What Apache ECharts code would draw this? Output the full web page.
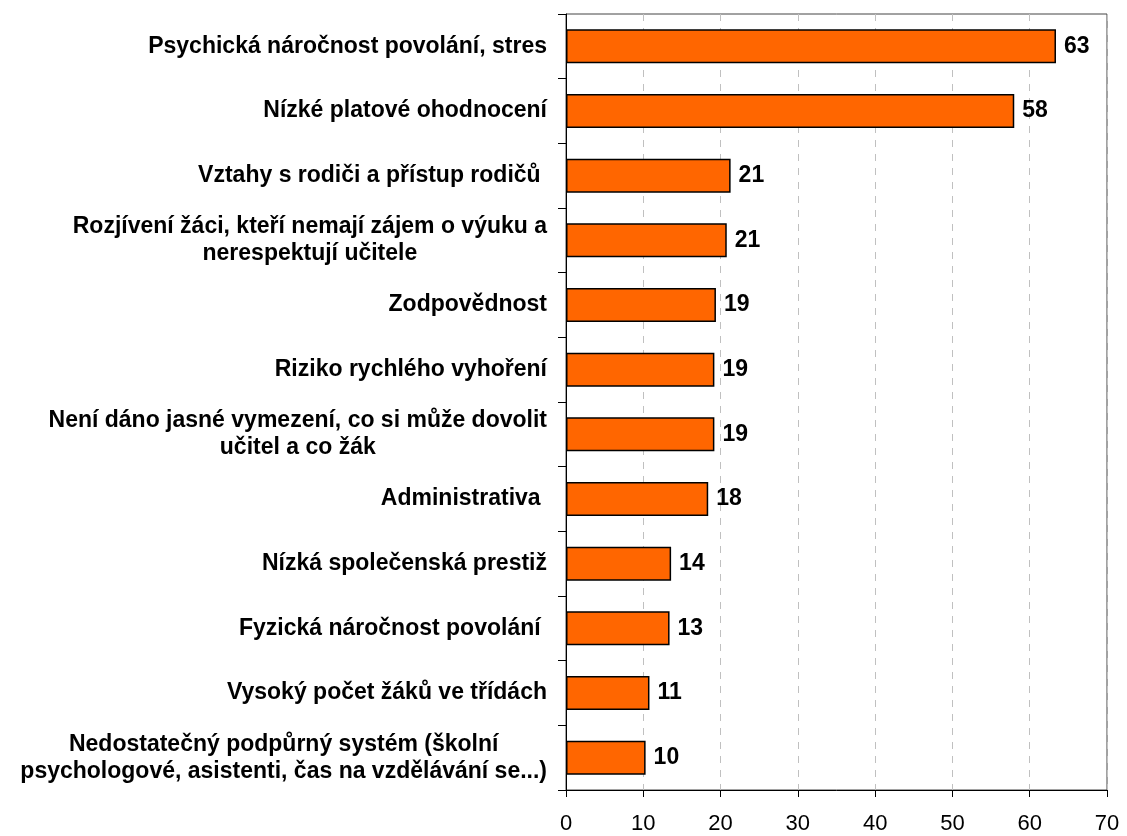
<!DOCTYPE html>
<html>
<head>
<meta charset="utf-8">
<script src="https://cdn.jsdelivr.net/npm/echarts@6/dist/echarts.min.js"></script>
<style>
html,body{margin:0;padding:0;background:#fff;}
#chart{width:1127px;height:836px;}
</style>
</head>
<body>
<div id="chart"></div>
<script>
const categories = [
  "Psychická náročnost povolání, stres",
  "Nízké platové ohodnocení",
  "Vztahy s rodiči a přístup rodičů ",
  "Rozjívení žáci, kteří nemají zájem o výuku a\nnerespektují učitele",
  "Zodpovědnost",
  "Riziko rychlého vyhoření",
  "Není dáno jasné vymezení, co si může dovolit\nučitel a co žák",
  "Administrativa ",
  "Nízká společenská prestiž",
  "Fyzická náročnost povolání ",
  "Vysoký počet žáků ve třídách",
  "Nedostatečný podpůrný systém (školní\npsychologové, asistenti, čas na vzdělávání se...)"
];
const values = [63.4, 58.0, 21.3, 20.8, 19.4, 19.2, 19.2, 18.4, 13.6, 13.4, 10.8, 10.3];
const xTicks = [0, 10, 20, 30, 40, 50, 60, 70];

const FONT = 'Liberation Sans, Arial, Helvetica, sans-serif';
const chart = echarts.init(document.getElementById('chart'));
chart.setOption({
  animation: false,
  backgroundColor: '#fff',
  grid: {
    left: 566, right: 20, top: 14, bottom: 46,
    show: true, borderColor: '#444', borderWidth: 1, backgroundColor: 'transparent'
  },
  xAxis: {
    type: 'value',
    min: xTicks[0], max: xTicks[xTicks.length - 1], interval: 10,
    axisLine: { show: true, lineStyle: { color: '#000', width: 1 } },
    axisTick: { show: true, length: 7, lineStyle: { color: '#000' } },
    splitLine: { show: true, lineStyle: { color: '#c0c0c0', type: [7, 7], width: 1 } },
    axisLabel: {
      margin: 23,
      fontFamily: FONT,
      fontSize: 22, color: '#000'
    }
  },
  yAxis: {
    type: 'category',
    inverse: true,
    data: categories,
    axisLine: { show: true, lineStyle: { color: '#000', width: 1 } },
    axisTick: { show: true, length: 8, lineStyle: { color: '#000' } },
    axisLabel: {
      margin: 19,
      align: 'right',
      fontFamily: FONT,
      fontWeight: 'bold',
      fontSize: 23,
      lineHeight: 27,
      color: '#000',
      formatter: function (v) {
        return v.split('\n').map(l => '{c|' + l + '}').join('\n');
      },
      rich: {
        c: {
          align: 'center',
          fontFamily: FONT,
          fontWeight: 'bold', fontSize: 23, lineHeight: 27, color: '#000'
        }
      }
    }
  },
  series: [{
    type: 'bar',
    data: values,
    barWidth: 34,
    itemStyle: { color: '#FF6600', borderColor: '#000', borderWidth: 1.5 },
    label: {
      show: true, position: 'right', distance: 8,
      fontFamily: FONT,
      fontWeight: 'bold', fontSize: 23, color: '#000',
      formatter: p => Math.round(p.value)
    }
  }]
});
</script>
</body>
</html>
